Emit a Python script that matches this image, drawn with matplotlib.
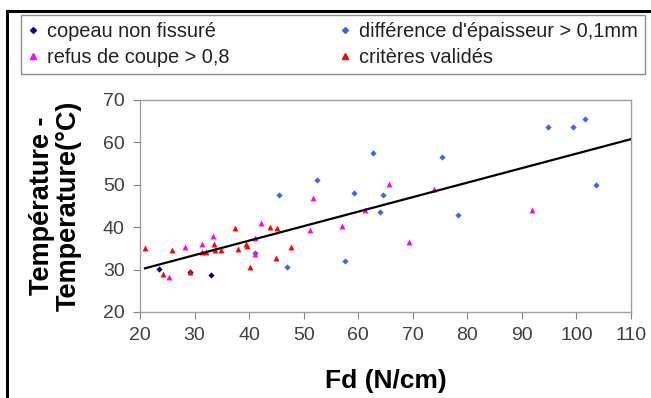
import numpy as np
import matplotlib
matplotlib.use("Agg")
import matplotlib.pyplot as plt
from matplotlib.lines import Line2D

plt.rcParams['font.family'] = ['Liberation Sans', 'DejaVu Sans']

# copeau non fissuré
x_nonfiss = [23.5, 33.1, 29.2]
y_nonfiss = [30.1, 28.7, 29.5]
# différence d'épaisseur > 0,1mm
x_diff = [41.0, 46.9, 45.5, 52.4, 57.6, 59.2, 62.8, 64.6, 64.0, 75.4, 78.3, 94.7, 99.4, 101.5, 103.5]
y_diff = [33.8, 30.5, 47.6, 51.1, 32.0, 48.1, 57.4, 47.6, 43.6, 56.6, 42.9, 63.7, 63.7, 65.5, 50.0]
# refus de coupe > 0,8
x_refus = [25.3, 28.3, 31.4, 33.4, 41.1, 42.1, 41.1, 51.7, 51.2, 57.0, 61.3, 65.6, 73.8, 69.3, 91.9]
y_refus = [28.3, 35.3, 36.1, 37.9, 33.6, 40.9, 37.4, 47.0, 39.3, 40.3, 44.1, 50.1, 49.1, 36.4, 44.1]
# critères validés
x_valid = [20.9, 24.3, 25.8, 29.2, 31.3, 32.1, 33.6, 33.7, 34.9, 37.4, 38.0, 39.4, 39.6, 40.2, 43.8, 45.2, 47.7, 44.9]
y_valid = [35.0, 28.9, 34.6, 29.5, 34.2, 34.2, 36.0, 34.6, 34.6, 39.7, 34.8, 36.0, 35.6, 30.7, 40.0, 39.8, 35.4, 32.8]

# courbe de tendance
trend_slope = 0.342
trend_intercept = 23.15
trend_x = [20.9, 110]

fig = plt.figure(figsize=(6.51, 3.98), dpi=100)
ax = fig.add_axes([140 / 651, 1 - 312 / 398, 491 / 651, 212 / 398])

ax.scatter(x_diff, y_diff, marker='D', s=10, color='#3366FF', linewidths=0, zorder=3)
ax.scatter(x_refus, y_refus, marker='^', s=18, color='#FF00FF', linewidths=0, zorder=3)
ax.scatter(x_nonfiss, y_nonfiss, marker='D', s=10, color='#000080', linewidths=0, zorder=3)
ax.scatter(x_valid, y_valid, marker='^', s=18, color='#FF0000', linewidths=0, zorder=4)

tx = np.array(trend_x)
ax.plot(tx, trend_slope * tx + trend_intercept, color='black', lw=1.6, zorder=5)

ax.set_xlim(20, 110)
ax.set_ylim(20, 70)
ax.set_xticks(np.arange(20, 111, 10))
ax.set_yticks(np.arange(20, 71, 10))
for s in ax.spines.values():
    s.set_color('#A0A0A0')
    s.set_linewidth(1.0)
ax.tick_params(direction='out', length=5, color='#808080', labelsize=14, labelcolor='#404040', pad=6)

ax.set_xlabel('Fd (N/cm)', fontsize=19, fontweight='bold', labelpad=18)
ax.set_ylabel('Température -\nTemperature(°C)', fontsize=19.5, fontweight='bold', linespacing=1.05)
ax.yaxis.set_label_coords(-0.118, 0.5)

handles = [
    Line2D([], [], ls='none', marker='D', ms=3, color='#000080'),
    Line2D([], [], ls='none', marker='^', ms=4, color='#FF00FF'),
    Line2D([], [], ls='none', marker='D', ms=3, color='#3366FF'),
    Line2D([], [], ls='none', marker='^', ms=4, color='#FF0000'),
]
labels = ['copeau non fissuré', 'refus de coupe > 0,8',
          "différence d'épaisseur > 0,1mm", 'critères validés']
leg = fig.legend(handles, labels, ncol=2, loc='upper left',
                 bbox_to_anchor=(20.7 / 651, 1 - 15 / 398),
                 fontsize=14.4, frameon=True, fancybox=False,
                 edgecolor='#707070', handlelength=0.55, handletextpad=0.42,
                 borderaxespad=0, labelspacing=0.35, borderpad=0.35,
                 columnspacing=5.5)
leg.get_frame().set_linewidth(1.0)
for t in leg.get_texts():
    t.set_color('#222222')

# cadre noir du graphique
fig.add_artist(Line2D([7 / 651, 7 / 651], [0, 1 - 11 / 398], transform=fig.transFigure, color='black', lw=2.2))
fig.add_artist(Line2D([7 / 651, 1], [1 - 11 / 398, 1 - 11 / 398], transform=fig.transFigure, color='black', lw=2.2))

fig.savefig('out.png', dpi=100)
